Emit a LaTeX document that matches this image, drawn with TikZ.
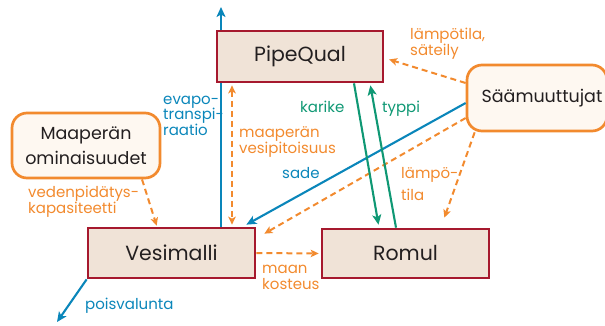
\documentclass[tikz,border=0pt]{standalone}
\usepackage{fontspec}
\setmainfont{Poppins}
\usetikzlibrary{arrows.meta,backgrounds}
\definecolor{boxfill}{HTML}{F0E3D7}
\definecolor{boxedge}{HTML}{A6192E}
\definecolor{warm}{HTML}{F28A2E}
\definecolor{creamfill}{HTML}{FEF8F1}
\definecolor{flowblue}{HTML}{0A86BA}
\definecolor{flowgreen}{HTML}{0F9874}
\definecolor{ink}{HTML}{231F20}
\tikzset{
  model/.style={draw=boxedge, fill=boxfill, line width=2.7pt, inner sep=0pt,
    text=ink, font=\fontsize{20.5}{24}\selectfont},
  source/.style={draw=warm, fill=creamfill, line width=2.7pt, rounded corners=15pt,
    inner sep=0pt, text=ink, align=center, font=\fontsize{17.5}{25}\selectfont},
  lbl/.style={inner sep=0pt, anchor=base west, align=left,
    font=\fontsize{15}{15.5}\selectfont},
  bluearrow/.style={draw=flowblue, line width=2.1pt,
    -{Stealth[length=10pt,width=9pt,inset=2.5pt]}},
  greenarrow/.style={draw=flowgreen, line width=2.1pt,
    -{Stealth[length=10pt,width=9pt,inset=2.5pt]}},
  warmdash/.style={draw=warm, line width=2pt, dash pattern=on 6pt off 4pt,
    -{Stealth[length=8pt,width=7.5pt,inset=2pt]}},
}
\begin{document}
\begin{tikzpicture}[x=1pt,y=-1pt]
\useasboundingbox (0,0) rectangle (605,325);
\clip (0,0) rectangle (605,325);

% model boxes
\node[model, minimum width=166pt, minimum height=51pt] (pq) at (300,56.5) {PipeQual};
\node[model, minimum width=167pt, minimum height=50pt] (vm) at (171.5,253) {Vesimalli};
\node[model, minimum width=167pt, minimum height=49pt] (ro) at (405.5,253.5) {Romul};

% input boxes
\node[source, minimum width=148pt, minimum height=65pt] (mo) at (86,145.5) {Maaperän\\ominaisuudet};
\node[source, minimum width=140pt, minimum height=66pt] (sm) at (537,98) {\hspace*{10pt}Säämuuttujat};

% free ends
\coordinate (evtop) at (221,7);
\coordinate (runoff) at (57,322);
\coordinate (mvx) at (232,0);

% evapotranspiration passes behind PipeQual
\begin{scope}[on background layer]
\draw[bluearrow] (vm.north -| evtop) -- (evtop);
\end{scope}

% soil moisture exchange between PipeQual and Vesimalli
\draw[warmdash, {Stealth[length=8pt,width=7.5pt,inset=2pt]}-{Stealth[length=8pt,width=7.5pt,inset=2pt]},
  shorten <=2pt, shorten >=2pt] (pq.south -| mvx) -- (vm.north -| mvx);

% weather inputs
\draw[warmdash, shorten >=5pt] ([yshift=15pt]sm.west) -- (pq.east |- 0,58);
\draw[bluearrow] ([yshift=-5pt]sm.west) -- ([shift={(-10pt,2pt)}]vm.north east);
\draw[warmdash] ([yshift=-20pt]sm.west) -- ([shift={(8pt,-7pt)}]vm.north east);
\draw[warmdash] ([xshift=9pt]sm.south west) -- ([shift={(-46pt,10pt)}]ro.north east);

% litter and nitrogen
\draw[greenarrow, shorten >=3pt] ([xshift=54pt]pq.south) -- ([xshift=-26.5pt]ro.north);
\draw[greenarrow, shorten >=2pt] ([xshift=-9.5pt]ro.north) -- ([xshift=70pt]pq.south);

% soil properties, soil moisture, runoff
\draw[warmdash, shorten >=1pt] ([xshift=56pt]mo.south) -- ([xshift=-14.5pt]vm.north);
\draw[warmdash, shorten >=2pt] (vm.east) -- (ro.west);
\draw[bluearrow] (vm.south west) -- (runoff);

% labels (anchored at the baseline of their last line)
\node[lbl, text=flowblue] (levap) at (163,135) {evapo-\\transpi-\\raatio};
\node[lbl, text=warm] (lmvp) at (239,153) {maaperän\\vesipitoisuus};
\node[lbl, text=flowblue] (lsade) at (282,178) {sade};
\node[lbl, text=flowgreen] (lkar) at (300,112) {karike};
\node[lbl, text=flowgreen] (ltyp) at (382,112) {typpi};
\node[lbl, text=warm] (llamp) at (401,200) {lämpö-\\[6pt]tila};
\node[lbl, text=warm] (lsat) at (410,55) {lämpötila,\\säteily};
\node[lbl, text=warm] (lved) at (28,213) {vedenpidätys-\\kapasiteetti};
\node[lbl, text=warm] (lmaan) at (262,289) {maan\\kosteus};
\node[lbl, text=flowblue] (lpois) at (85,309) {poisvalunta};
\end{tikzpicture}
\end{document}
